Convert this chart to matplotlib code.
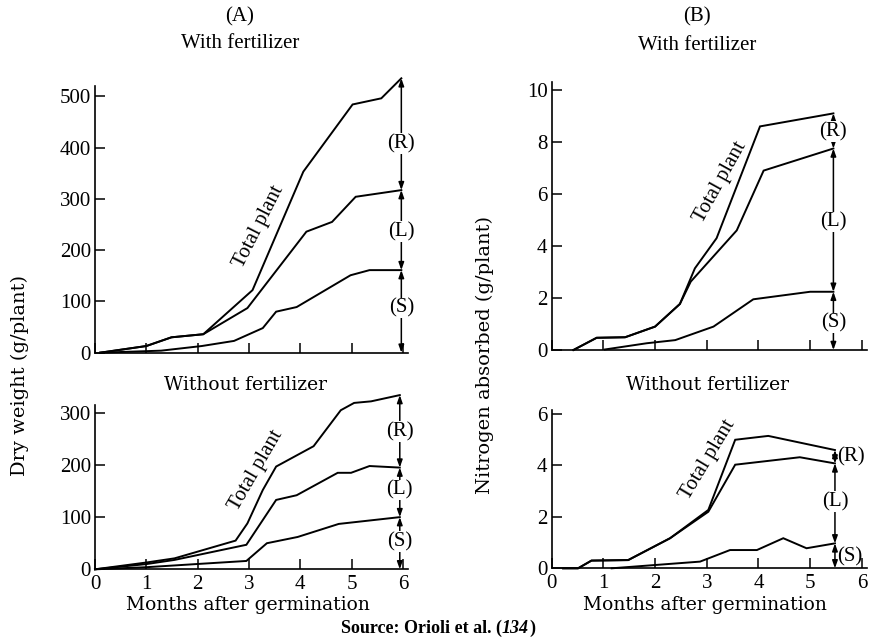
import matplotlib
matplotlib.use("Agg")
import matplotlib.pyplot as plt
from matplotlib.offsetbox import TextArea, HPacker, AnnotationBbox

plt.rcParams['font.family'] = ['Liberation Serif', 'DejaVu Serif']

# ---------------- data (months after germination, values) ----------------
# (A) Dry weight, with fertilizer
A_f_total_x = [0.1, 1.0, 1.49, 2.11, 3.07, 4.06, 5.02, 5.58, 5.97]
A_f_total_y = [0, 13, 30, 36, 122, 353, 484, 496, 535]
A_f_LS_x = [0.1, 1.0, 1.49, 2.11, 2.97, 4.12, 4.62, 5.08, 5.97]
A_f_LS_y = [0, 13, 30, 36, 87, 236, 255, 304, 317]
A_f_S_x = [0.1, 1.29, 2.08, 2.71, 3.27, 3.53, 3.93, 4.98, 5.35, 5.97]
A_f_S_y = [0, 4, 13, 23, 48, 80, 89, 151, 161, 161]

# (A) Dry weight, without fertilizer
A_n_total_x = [0, 1.0, 1.55, 2.74, 2.97, 3.27, 3.53, 4.26, 4.79, 5.05, 5.38, 5.94]
A_n_total_y = [0, 13, 21, 55, 88, 152, 197, 236, 305, 319, 322, 334]
A_n_LS_x = [0, 1.0, 1.55, 2.95, 3.53, 3.93, 4.73, 4.99, 5.35, 5.94]
A_n_LS_y = [0, 10, 18, 47, 133, 142, 185, 185, 198, 195]
A_n_S_x = [0, 1.0, 1.97, 2.95, 3.35, 3.95, 4.75, 5.94]
A_n_S_y = [0, 4, 10, 16, 50, 62, 87, 100]

# (B) Nitrogen absorbed, with fertilizer
B_f_total_x = [0.42, 0.87, 1.42, 2.0, 2.48, 2.77, 3.19, 4.03, 5.45]
B_f_total_y = [0, 0.47, 0.49, 0.9, 1.77, 3.14, 4.3, 8.6, 9.1]
B_f_LS_x = [0.42, 0.87, 1.42, 2.0, 2.48, 2.69, 3.58, 4.1, 5.45]
B_f_LS_y = [0, 0.47, 0.49, 0.9, 1.77, 2.63, 4.6, 6.9, 7.75]
B_f_S_x = [1.03, 1.84, 2.39, 3.13, 3.9, 5.0, 5.45]
B_f_S_y = [0.02, 0.26, 0.38, 0.9, 1.95, 2.24, 2.24]

# (B) Nitrogen absorbed, without fertilizer
B_n_total_x = [0.22, 0.51, 0.77, 1.48, 2.29, 3.03, 3.55, 4.19, 5.48]
B_n_total_y = [0, 0, 0.3, 0.32, 1.17, 2.27, 5.0, 5.15, 4.6]
B_n_LS_x = [0.22, 0.51, 0.77, 1.48, 2.29, 3.03, 3.55, 4.8, 5.48]
B_n_LS_y = [0, 0, 0.3, 0.32, 1.17, 2.2, 4.03, 4.32, 4.08]
B_n_S_x = [1.16, 2.87, 3.45, 3.97, 4.48, 4.93, 5.48]
B_n_S_y = [0, 0.26, 0.71, 0.71, 1.17, 0.78, 0.97]

month_ticks = [0, 1, 2, 3, 4, 5, 6]
A_f_yticks = [0, 100, 200, 300, 400, 500]
A_n_yticks = [0, 100, 200, 300]
B_f_yticks = [0, 2, 4, 6, 8, 10]
B_n_yticks = [0, 2, 4, 6]
part_labels = ["(R)", "(L)", "(S)"]

# ---------------- figure ----------------
W, H = 873, 641
fig = plt.figure(figsize=(W / 100, H / 100), dpi=100)
fig.patch.set_facecolor('white')


def px_axes(x0, x1, y_bottom, y_top):
    return fig.add_axes([x0 / W, (H - y_bottom) / H, (x1 - x0) / W, (y_bottom - y_top) / H])


axA1 = px_axes(95, 408, 352.7, 86)
axA2 = px_axes(95, 408, 569.3, 405)
axB1 = px_axes(551.7, 867, 350, 82.2)
axB2 = px_axes(551.7, 867, 568.3, 410.2)

LW = 1.4
TICK_FS = 15
WIDE = 'DejaVu Serif'


def style(ax, ylim, yticks, xlabels):
    ax.set_xlim(0, 6.1)
    ax.set_ylim(*ylim)
    for s in ['top', 'right']:
        ax.spines[s].set_visible(False)
    for s in ['left', 'bottom']:
        ax.spines[s].set_linewidth(1.2)
    ax.set_xticks(month_ticks)
    ax.set_yticks(yticks)
    ax.tick_params(direction='in', length=7, width=1.1, labelsize=TICK_FS)
    ax.tick_params(axis='x', pad=4)
    ax.tick_params(axis='y', pad=3)
    if not xlabels:
        ax.set_xticklabels([])
    ax.patch.set_alpha(0)


style(axA1, (0, 520), A_f_yticks, False)
style(axA2, (0, 315), A_n_yticks, True)
style(axB1, (0, 10.3), B_f_yticks, False)
style(axB2, (0, 6.15), B_n_yticks, True)


def curves(ax, data):
    for xs, ys in data:
        ax.plot(xs, ys, color='black', lw=LW, solid_joinstyle='miter', clip_on=False)


curves(axA1, [(A_f_total_x, A_f_total_y), (A_f_LS_x, A_f_LS_y), (A_f_S_x, A_f_S_y)])
curves(axA2, [(A_n_total_x, A_n_total_y), (A_n_LS_x, A_n_LS_y), (A_n_S_x, A_n_S_y)])
curves(axB1, [(B_f_total_x, B_f_total_y), (B_f_LS_x, B_f_LS_y), (B_f_S_x, B_f_S_y)])
curves(axB2, [(B_n_total_x, B_n_total_y), (B_n_LS_x, B_n_LS_y), (B_n_S_x, B_n_S_y)])


def arrows(ax, x, levels, label_pos, label_dx=(0, 0, 0)):
    # levels: top (total), middle (L+S), S, 0
    for i in range(3):
        ax.annotate('', xy=(x, levels[i]), xytext=(x, levels[i + 1]),
                    arrowprops=dict(arrowstyle='<|-|>,head_length=0.45,head_width=0.16',
                                    lw=1.1, color='black', shrinkA=0, shrinkB=0),
                    annotation_clip=False)
    for i, lab in enumerate(part_labels):
        dx = label_dx[i]
        if dx == 0:
            ax.text(x, label_pos[i], lab, ha='center', va='center', fontsize=TICK_FS,
                    bbox=dict(facecolor='white', edgecolor='none', pad=0.5), clip_on=False)
        else:
            ax.text(x + dx, label_pos[i], lab, ha='left', va='center', fontsize=TICK_FS,
                    clip_on=False)


arrows(axA1, A_f_total_x[-1], [A_f_total_y[-1], A_f_LS_y[-1], A_f_S_y[-1], 0], [408, 236, 87])
arrows(axA2, A_n_total_x[-1], [A_n_total_y[-1], A_n_LS_y[-1], A_n_S_y[-1], 0], [264, 152, 53])
arrows(axB1, B_f_total_x[-1], [B_f_total_y[-1], B_f_LS_y[-1], B_f_S_y[-1], 0], [8.4, 4.93, 1.03])
arrows(axB2, B_n_total_x[-1], [B_n_total_y[-1], B_n_LS_y[-1], B_n_S_y[-1], 0], [4.32, 2.59, 0.45],
       label_dx=(0.05, 0, 0.05))

# "Total plant" labels
axA1.text(3.2, 246, "Total plant", rotation=63, ha='center', va='center', fontsize=TICK_FS)
axA2.text(3.15, 190, "Total plant", rotation=60, ha='center', va='center', fontsize=TICK_FS)
axB1.text(3.26, 6.47, "Total plant", rotation=61, ha='center', va='center', fontsize=TICK_FS)
axB2.text(3.03, 4.21, "Total plant", rotation=59, ha='center', va='center', fontsize=TICK_FS)


def ftext(x, y, s, **kw):
    fig.text(x / W, 1 - y / H, s, ha='center', va='center', **kw)


ftext(240, 17, "(A)", fontsize=15)
ftext(240, 43, "With fertilizer", fontsize=15)
ftext(697, 17, "(B)", fontsize=15)
ftext(697, 45, "With fertilizer", fontsize=15)
ftext(246, 385, "Without fertilizer", fontsize=13.5, family=WIDE)
ftext(708, 385, "Without fertilizer", fontsize=13.5, family=WIDE)
ftext(20, 375, "Dry weight (g/plant)", fontsize=14, rotation=90, family=WIDE)
ftext(485, 355, "Nitrogen absorbed (g/plant)", fontsize=14, rotation=90, family=WIDE)
ftext(248, 605, "Months after germination", fontsize=13.5, family=WIDE)
ftext(705, 605, "Months after germination", fontsize=13.5, family=WIDE)

# Source line: bold, with the reference number in bold italic
src_bold = dict(fontsize=13, fontweight='bold', family='Liberation Serif')
src_it = dict(fontsize=13, fontweight='bold', fontstyle='italic', family='Liberation Serif')
src_box = HPacker(children=[TextArea("Source: Orioli et al. (", textprops=src_bold),
                            TextArea("134", textprops=src_it),
                            TextArea(")", textprops=src_bold)],
                  align='baseline', pad=0, sep=0)
fig.add_artist(AnnotationBbox(src_box, (438 / W, 1 - 628 / H), xycoords='figure fraction',
                              frameon=False, box_alignment=(0.5, 0.5), pad=0))

fig.savefig("out.png", dpi=100)
